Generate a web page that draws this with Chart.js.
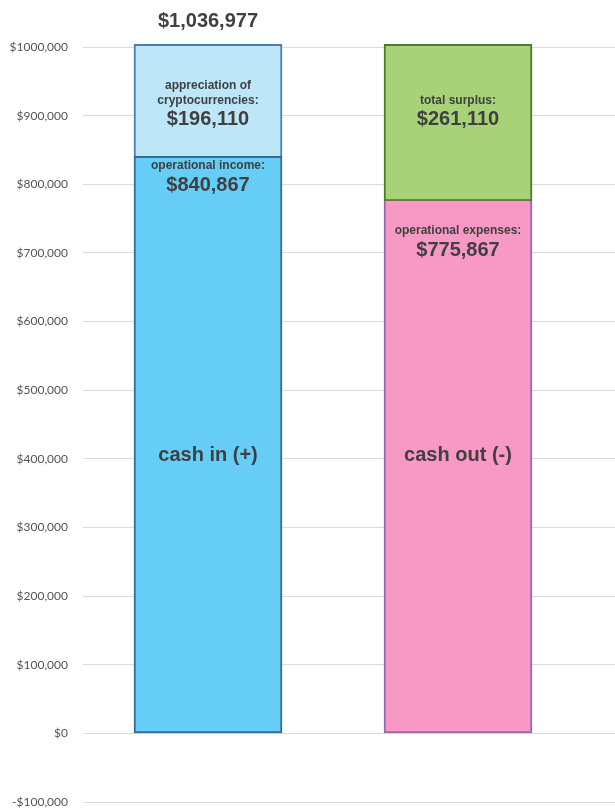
<!DOCTYPE html>
<html>
<head>
<meta charset="utf-8">
<script src="https://cdn.jsdelivr.net/npm/chart.js@4/dist/chart.umd.min.js"></script>
<style>
  html, body { margin: 0; padding: 0; background: #fff; }
  #wrap { width: 615px; height: 810px; }
</style>
</head>
<body>
<div id="wrap"><canvas id="cashChart"></canvas></div>
<script>
/* cash in / cash out stacked bars */

const categories = ['cash in (+)', 'cash out (-)'];
const baseValues = [840867, 775867];
const topValues  = [196110, 261110];
const baseNames  = ['operational income:', 'operational expenses:'];
const topNames   = [['appreciation of', 'cryptocurrencies:'], ['total surplus:']];
const tickValues = [-100000, 0, 100000, 200000, 300000, 400000, 500000, 600000, 700000, 800000, 900000, 1000000];
const tickLabels = ['-$100,000', '$0', '$100,000', '$200,000', '$300,000', '$400,000',
                    '$500,000', '$600,000', '$700,000', '$800,000', '$900,000', '$1000,000'];

const baseFill   = ['#66CEF6', '#F898C4'];
const baseBorder = ['#36699A', '#8E6CB4'];
const topFill    = ['#BDE6F8', '#A7D277'];
const topBorder  = ['#4A7FB0', '#4B7B28'];

const money = v => '$' + v.toLocaleString('en-US');
const cashInTotal = baseValues[0] + topValues[0];

const TEXT  = '#404040';
const SMALL = 'bold 12px "Liberation Sans", Arial, sans-serif';
const BIG   = 'bold 20px "Liberation Sans", Arial, sans-serif';

// bars that run past the axis max get a border drawn on the cut edge
const cutEdge = {
  id: 'cutEdge',
  afterDatasetsDraw(chart) {
    const { ctx, chartArea } = chart;
    const edge = chartArea.top - 3;
    ctx.save();
    chart.data.datasets.forEach((ds, d) => {
      chart.getDatasetMeta(d).data.forEach((el, i) => {
        if (el.y < edge) {
          ctx.fillStyle = ds.borderColor[i];
          ctx.fillRect(el.x - el.width / 2, edge, el.width, 2);
        }
      });
    });
    ctx.restore();
  }
};

const segmentLabels = {
  id: 'segmentLabels',
  afterDatasetsDraw(chart) {
    const { ctx, chartArea } = chart;
    const y = chart.scales.y;
    const baseMeta = chart.getDatasetMeta(0);
    const topMeta  = chart.getDatasetMeta(1);
    const baseOffsets = [9, 30];
    ctx.save();
    ctx.fillStyle = TEXT;
    ctx.textAlign = 'center';
    ctx.textBaseline = 'middle';
    categories.forEach((cat, i) => {
      const b = baseMeta.data[i], t = topMeta.data[i];
      const x = b.x;

      const visTop = Math.max(t.y, chartArea.top - 2);
      const valY = visTop + 74;
      ctx.font = BIG;
      ctx.fillText(money(topValues[i]), x, valY);
      ctx.font = SMALL;
      topNames[i].slice().reverse().forEach((line, k) => {
        ctx.fillText(line, x, valY - 18 - k * 15);
      });

      ctx.fillText(baseNames[i], x, b.y + baseOffsets[i]);
      ctx.font = BIG;
      ctx.fillText(money(baseValues[i]), x, b.y + baseOffsets[i] + 20);

      ctx.fillText(cat, x, y.getPixelForValue(405000));

      if (i === 0) ctx.fillText(money(cashInTotal), x, chartArea.top - 26);
    });
    ctx.restore();
  }
};

new Chart(document.getElementById('cashChart'), {
  type: 'bar',
  data: {
    datasets: [
      {
        label: 'base',
        data: baseValues.map((v, i) => ({ x: i, y: v })),
        backgroundColor: baseFill,
        borderColor: baseBorder,
        borderWidth: 2,
        borderSkipped: ctx => ctx.dataIndex === 0 ? false : 'top',
        barThickness: 148,
        clip: { left: false, right: false, top: 3, bottom: false }
      },
      {
        label: 'top',
        data: topValues.map((v, i) => ({ x: i, y: v })),
        backgroundColor: topFill,
        borderColor: topBorder,
        borderWidth: 2,
        borderSkipped: ctx => ctx.dataIndex === 0 ? 'bottom' : false,
        barThickness: 148,
        clip: { left: false, right: false, top: 3, bottom: false }
      }
    ]
  },
  options: {
    responsive: true,
    maintainAspectRatio: false,
    animation: false,
    layout: { padding: { top: 47, bottom: 8, left: 0, right: 0 } },
    plugins: { legend: { display: false }, tooltip: { enabled: false } },
    scales: {
      x: {
        type: 'linear',
        display: false,
        stacked: true,
        offset: false,
        min: -0.5,
        max: 1.628
      },
      y: {
        stacked: true,
        min: -100000,
        max: 1000000,
        afterBuildTicks: scale => { scale.ticks = tickValues.map(v => ({ value: v })); },
        afterFit: scale => {
          scale.width = 83;
          scale.paddingTop = 0;
          scale.paddingBottom = 8;
        },
        border: { display: false },
        grid: { color: '#DADADA', lineWidth: 1, drawTicks: false },
        ticks: {
          padding: 15,
          color: '#555555',
          font: { family: 'Lato', size: 12 },
          callback: (v, idx) => tickLabels[idx]
        }
      }
    }
  },
  plugins: [cutEdge, segmentLabels]
});
</script>
</body>
</html>
